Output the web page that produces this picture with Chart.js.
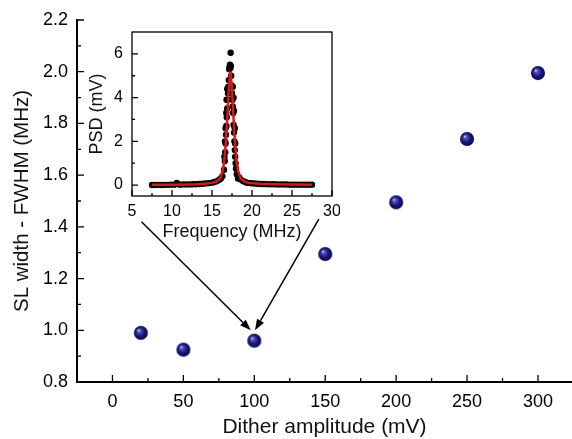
<!DOCTYPE html>
<html>
<head>
<meta charset="utf-8">
<script src="https://cdn.jsdelivr.net/npm/chart.js@4"></script>
<style>
  html, body { margin: 0; padding: 0; background: #fff; }
  #wrap { position: relative; width: 572px; height: 439px; }
  #main { position: absolute; left: 0; top: 0; }
  #inset { position: absolute; left: 80px; top: 24px; }
</style>
</head>
<body>
<div id="wrap">
  <canvas id="main" width="572" height="439"></canvas>
  <canvas id="inset" width="260" height="222"></canvas>
</div>
<script>
// main plot: linewidth vs dither amplitude
const dither = [20, 50, 100, 150, 200, 250, 300];
const fwhm = [0.99, 0.925, 0.96, 1.295, 1.495, 1.74, 1.995];
const xTicks = [0, 50, 100, 150, 200, 250, 300];
const xMinor = [25, 75, 125, 175, 225, 275];
const yTicks = [0.8, 1.0, 1.2, 1.4, 1.6, 1.8, 2.0, 2.2];
const yMinor = [0.9, 1.1, 1.3, 1.5, 1.7, 1.9, 2.1];

// inset: measured PSD (dots) and fit (red line)
const psdFreq = [7.5, 7.9, 8.3, 8.7, 9.1, 9.5, 9.9, 10.3, 10.6, 11.0, 11.4, 11.8, 12.2, 12.6, 13.0,
  13.4, 13.8, 14.2, 14.6, 15.0, 15.3, 15.6, 15.9, 16.1, 16.3, 16.5, 16.55, 16.6, 16.62, 16.65,
  16.7, 16.7, 16.75, 16.78, 16.8, 16.82, 16.85, 16.9, 16.9, 16.95, 17.0, 17.05, 17.1, 17.15,
  17.2, 17.25, 17.3, 17.33, 17.35, 17.4, 17.45, 17.5, 17.55, 17.6, 17.6, 17.65, 17.7, 17.7,
  17.75, 17.75, 17.8, 17.85, 17.85, 17.9, 17.9, 17.95, 18.0, 18.1, 18.25, 18.4, 18.6, 18.9,
  19.2, 19.5, 19.9, 20.3, 20.7, 21.1, 21.5, 21.9, 22.3, 22.7, 23.1, 23.5, 23.9, 24.3, 24.7,
  25.1, 25.5, 25.9, 26.3, 26.7, 27.1, 27.5];
const psdVal = [0.0, 0.0, 0.01, 0.0, 0.01, 0.01, 0.02, 0.02, 0.1, 0.02, 0.03, 0.03, 0.03, 0.04, 0.04,
  0.05, 0.06, 0.07, 0.09, 0.11, 0.14, 0.18, 0.24, 0.3, 0.4, 0.7, 1.3, 1.1, 2.0, 1.5,
  1.9, 2.6, 2.3, 3.3, 2.7, 3.9, 3.1, 3.5, 4.4, 3.9, 4.2, 4.5, 4.8, 5.3,
  5.4, 5.5, 5.35, 6.05, 5.45, 5.0, 4.55, 4.2, 3.9, 3.6, 4.5, 3.3, 2.75, 4.0,
  2.4, 3.4, 2.0, 1.6, 2.6, 1.3, 1.9, 1.0, 0.75, 0.5, 0.3, 0.35, 0.25, 0.18,
  0.13, 0.1, 0.08, 0.07, 0.06, 0.05, 0.05, 0.04, 0.04, 0.04, 0.03, 0.03, 0.03, 0.03, 0.02,
  0.02, 0.02, 0.02, 0.02, 0.02, 0.02, 0.02];
const fitFreq = [7.5, 10, 12, 13, 14, 15, 15.5, 16.0, 16.3, 16.5, 16.7, 16.9, 17.1, 17.3,
  17.5, 17.7, 17.9, 18.1, 18.3, 18.6, 19.1, 19.6, 21, 23, 25, 27.5];
const fitVal = [0.01, 0.02, 0.03, 0.04, 0.06, 0.1, 0.15, 0.3, 0.6, 1.0, 1.8, 3.0, 4.4, 5.2,
  4.4, 3.0, 1.8, 1.0, 0.6, 0.3, 0.15, 0.1, 0.06, 0.04, 0.03, 0.02];
const psdXTicks = [5, 10, 15, 20, 25, 30];
const psdXMinor = [7.5, 12.5, 17.5, 22.5, 27.5];
const psdYTicks = [0, 2, 4, 6];
const psdYMinor = [1, 3, 5];

// arrows from inset to the 100 mV point, in data units [x0, y0, x1, y1]
const arrows = [[20.5, 1.42, 97.5, 1.0], [145.5, 1.43, 100.5, 1.0]];

const FONT = "'Liberation Sans', Arial, sans-serif";

// shaded sphere marker
function sphere(r) {
  const c = document.createElement('canvas');
  c.width = c.height = r * 2 + 2;
  const g = c.getContext('2d');
  const cx = r + 1, cy = r + 1;
  const grad = g.createRadialGradient(cx - r * 0.35, cy - r * 0.4, 0, cx, cy, r);
  grad.addColorStop(0, '#e0e0ff');
  grad.addColorStop(0.22, '#5858c0');
  grad.addColorStop(0.6, '#1a1a82');
  grad.addColorStop(1, '#060640');
  g.fillStyle = grad;
  g.beginPath();
  g.arc(cx, cy, r, 0, Math.PI * 2);
  g.fill();
  return c;
}

// ticks pointing into the plot
function inwardTicks(chart, xs, ys, len, minLen) {
  const ctx = chart.ctx, a = chart.chartArea;
  const x = chart.scales.x, y = chart.scales.y;
  ctx.save();
  ctx.strokeStyle = '#000';
  ctx.lineWidth = 1.3;
  ctx.beginPath();
  xs[0].forEach(v => { const p = x.getPixelForValue(v); ctx.moveTo(p, a.bottom); ctx.lineTo(p, a.bottom - len); });
  xs[1].forEach(v => { const p = x.getPixelForValue(v); ctx.moveTo(p, a.bottom); ctx.lineTo(p, a.bottom - minLen); });
  ys[0].forEach(v => { const p = y.getPixelForValue(v); ctx.moveTo(a.left, p); ctx.lineTo(a.left + len, p); });
  ys[1].forEach(v => { const p = y.getPixelForValue(v); ctx.moveTo(a.left, p); ctx.lineTo(a.left + minLen, p); });
  ctx.stroke();
  ctx.restore();
}

// keep the plot box where it is, no room reserved for edge labels
function fixX(h) {
  return s => { s.height = h; s.paddingLeft = 0; s.paddingRight = 0; };
}
function fixY(w) {
  return s => { s.width = w; s.paddingTop = 0; s.paddingBottom = 0; };
}

const mainExtras = {
  id: 'mainExtras',
  afterDatasetsDraw(chart) {
    inwardTicks(chart, [xTicks, xMinor], [yTicks, yMinor], 7, 4);
    const ctx = chart.ctx, x = chart.scales.x, y = chart.scales.y;
    ctx.save();
    ctx.strokeStyle = '#000';
    ctx.fillStyle = '#000';
    ctx.lineWidth = 1.5;
    arrows.forEach(([x0, y0, x1, y1]) => {
      const ax = x.getPixelForValue(x0), ay = y.getPixelForValue(y0);
      const bx = x.getPixelForValue(x1), by = y.getPixelForValue(y1);
      const ang = Math.atan2(by - ay, bx - ax);
      const hl = 11, hw = 4;
      const ex = bx - hl * Math.cos(ang), ey = by - hl * Math.sin(ang);
      ctx.beginPath();
      ctx.moveTo(ax, ay);
      ctx.lineTo(ex, ey);
      ctx.stroke();
      ctx.beginPath();
      ctx.moveTo(bx, by);
      ctx.lineTo(ex + hw * Math.sin(ang), ey - hw * Math.cos(ang));
      ctx.lineTo(ex - hw * Math.sin(ang), ey + hw * Math.cos(ang));
      ctx.closePath();
      ctx.fill();
    });
    ctx.restore();
  }
};

const insetExtras = {
  id: 'insetExtras',
  afterDatasetsDraw(chart) {
    inwardTicks(chart, [psdXTicks, psdXMinor], [psdYTicks, psdYMinor], 6, 3);
    const a = chart.chartArea, ctx = chart.ctx;
    ctx.save();
    ctx.strokeStyle = '#000';
    ctx.lineWidth = 1.3;
    ctx.strokeRect(a.left, a.top, a.right - a.left, a.bottom - a.top);
    ctx.restore();
  }
};

new Chart(document.getElementById('main'), {
  type: 'scatter',
  data: {
    datasets: [{
      data: dither.map((v, i) => ({ x: v, y: fwhm[i] })),
      pointStyle: sphere(7),
      pointRadius: 7
    }]
  },
  options: {
    responsive: false,
    animation: false,
    layout: { autoPadding: false, padding: { top: 20, right: 0, left: 0, bottom: 0 } },
    plugins: { legend: { display: false }, tooltip: { enabled: false } },
    scales: {
      x: {
        type: 'linear', min: -25, max: 324,
        afterBuildTicks: s => { s.ticks = xTicks.map(v => ({ value: v })); },
        afterFit: fixX(57),
        grid: { display: false, drawTicks: false },
        border: { display: true, color: '#000', width: 2 },
        ticks: { color: '#000', padding: 9, font: { family: FONT, size: 18 } },
        title: { display: true, text: 'Dither amplitude (mV)', color: '#111',
          font: { family: FONT, size: 21, lineHeight: 1.1 }, padding: { top: 0, bottom: 0 } }
      },
      y: {
        type: 'linear', min: 0.8, max: 2.2,
        afterBuildTicks: s => { s.ticks = yTicks.map(v => ({ value: v })); },
        afterFit: fixY(77),
        grid: { display: false, drawTicks: false },
        border: { display: true, color: '#000', width: 2 },
        ticks: { color: '#000', padding: 9, font: { family: FONT, size: 18 },
          callback: v => v.toFixed(1) },
        title: { display: true, text: 'SL width - FWHM (MHz)', color: '#111',
          font: { family: FONT, size: 20.5, lineHeight: 1.2 }, padding: { top: 10, bottom: 0 } }
      }
    }
  },
  plugins: [mainExtras]
});

new Chart(document.getElementById('inset'), {
  type: 'scatter',
  data: {
    datasets: [{
      type: 'line',
      data: fitFreq.map((v, i) => ({ x: v, y: fitVal[i] })),
      borderColor: '#d81818',
      borderWidth: 2.5,
      pointRadius: 0,
      tension: 0,
      order: 0
    }, {
      data: psdFreq.map((v, i) => ({ x: v, y: psdVal[i] })),
      backgroundColor: '#000',
      borderColor: '#000',
      pointRadius: 3.2,
      borderWidth: 0,
      order: 1
    }]
  },
  options: {
    responsive: false,
    animation: false,
    layout: { autoPadding: false, padding: { top: 8, right: 8, left: 0, bottom: 0 } },
    plugins: { legend: { display: false }, tooltip: { enabled: false } },
    scales: {
      x: {
        type: 'linear', min: 5, max: 30,
        afterBuildTicks: s => { s.ticks = psdXTicks.map(v => ({ value: v })); },
        afterFit: fixX(50),
        grid: { display: false, drawTicks: false },
        border: { display: false },
        ticks: { color: '#000', padding: 6, font: { family: FONT, size: 16 } },
        title: { display: true, text: 'Frequency (MHz)', color: '#111',
          font: { family: FONT, size: 18, lineHeight: 1.2 }, padding: { top: 0, bottom: 3 } }
      },
      y: {
        type: 'linear', min: -0.5, max: 7,
        afterBuildTicks: s => { s.ticks = psdYTicks.map(v => ({ value: v })); },
        afterFit: fixY(52),
        grid: { display: false, drawTicks: false },
        border: { display: false },
        ticks: { color: '#000', padding: 9, font: { family: FONT, size: 16 } },
        title: { display: true, text: 'PSD (mV)', color: '#111',
          font: { family: FONT, size: 18, lineHeight: 1.2 }, padding: { top: 6, bottom: 0 } }
      }
    }
  },
  plugins: [insetExtras]
});
</script>
</body>
</html>
